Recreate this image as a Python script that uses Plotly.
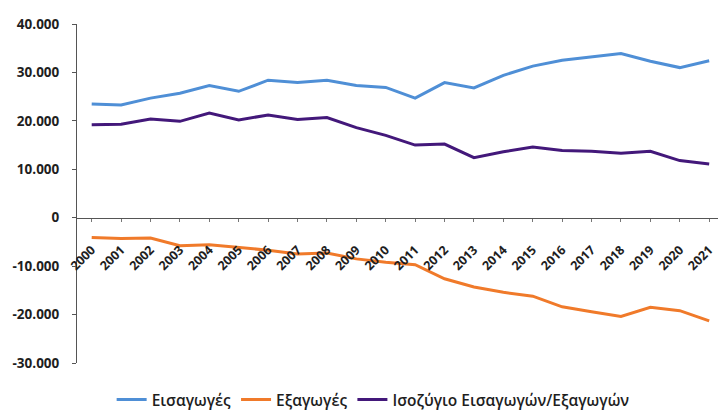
import plotly.graph_objects as go

# Annual values (millions), 2000-2021
years = list(range(2000, 2022))
imports = [23500, 23300, 24700, 25700, 27300, 26100, 28400, 27900, 28400, 27300,
           26900, 24700, 27900, 26800, 29400, 31300, 32500, 33200, 33900, 32300,
           31000, 32400]
exports = [-4100, -4300, -4200, -5800, -5600, -6100, -6700, -7500, -7300, -8500,
           -9200, -9700, -12600, -14300, -15400, -16200, -18400, -19400, -20400, -18500,
           -19200, -21300]
balance = [19200, 19300, 20400, 19900, 21600, 20200, 21200, 20300, 20700, 18600,
           17000, 15000, 15200, 12400, 13600, 14600, 13900, 13700, 13300, 13700,
           11800, 11100]

series_names = ["Εισαγωγές", "Εξαγωγές", "Ισοζύγιο Εισαγωγών/Εξαγωγών"]
series_colors = ["#4f8fd6", "#f07a2a", "#43187a"]

y_ticks = [40000, 30000, 20000, 10000, 0, -10000, -20000, -30000]
y_tick_text = ["40.000", "30.000", "20.000", "10.000", "0", "-10.000", "-20.000", "-30.000"]
x_tick_text = [str(y) for y in years]

y_min, y_max = -30000, 40000

fig = go.Figure()
for name, vals, col in zip(series_names, [imports, exports, balance], series_colors):
    fig.add_trace(go.Scatter(
        x=years, y=vals, name=name, mode="lines",
        line=dict(color=col, width=3),
    ))

# place the category axis on the zero line
zero_pos = (0 - y_min) / (y_max - y_min)

font_family = "'Open Sans', Lato, sans-serif"
text_col = "#1e1e1e"

fig.update_layout(
    width=718, height=417,
    margin=dict(l=77, r=0, t=24, b=50),
    paper_bgcolor="white", plot_bgcolor="white",
    separators=",.",
    font=dict(family=font_family, color=text_col, size=13),
    showlegend=True,
    legend=dict(
        orientation="h", x=0.462, xanchor="center", y=-0.11, yanchor="middle",
        font=dict(size=15.5, family=font_family, weight=600, color=text_col),
        itemwidth=30, tracegroupgap=0,
    ),
    xaxis=dict(
        range=[1999.5, 2021.3],
        tickmode="array", tickvals=years, ticktext=x_tick_text,
        tickangle=-45,
        tickfont=dict(size=12.5, family=font_family, weight="bold", color=text_col),
        ticklabelstandoff=16,
        showgrid=False, zeroline=False,
        showline=True, linecolor="#555555", linewidth=1,
        ticks="outside", ticklen=3, tickcolor="#777777",
        anchor="free", position=zero_pos,
    ),
    yaxis=dict(
        range=[y_min, y_max],
        tickmode="array", tickvals=y_ticks, ticktext=y_tick_text,
        tickfont=dict(size=13.5, family=font_family, weight="bold", color=text_col),
        showgrid=False, zeroline=False,
        showline=True, linecolor="#555555", linewidth=1,
        ticks="outside", ticklen=4, tickcolor="#555555",
        ticklabelstandoff=10,
    ),
)

fig.write_html("out.html")
